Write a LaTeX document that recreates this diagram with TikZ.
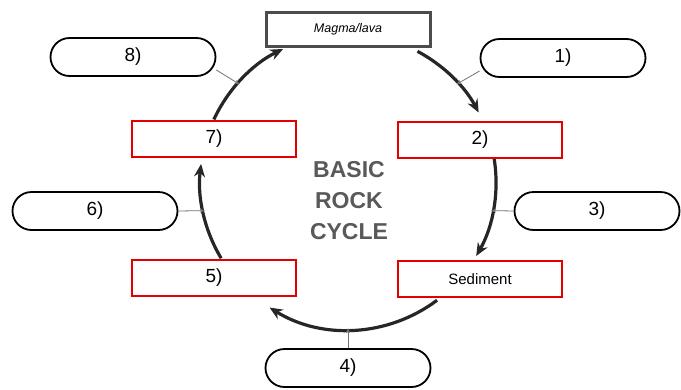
\documentclass[tikz,border=0pt]{standalone}
\usepackage{fontspec}
\setmainfont{Liberation Sans}
\usetikzlibrary{arrows.meta,calc}
\begin{document}
\begin{tikzpicture}[x=1pt,y=-1pt,
  redbox/.style={draw=red!90!black, line width=2.8pt, fill=white, minimum width=164pt, minimum height=36pt, inner sep=0pt, font=\fontsize{19}{22}\selectfont},
  pill/.style={draw=black, line width=1.8pt, fill=white, rounded corners=19pt, minimum width=165pt, minimum height=38pt, inner sep=0pt, font=\fontsize{19}{22}\selectfont},
  topbox/.style={draw=black!70, line width=3pt, fill=white, minimum width=164pt, minimum height=34pt, inner sep=0pt, font=\fontsize{12.5}{14}\selectfont\itshape},
  cyc/.style={draw=black!85, line width=3.2pt, -{Stealth[length=13pt,width=11pt]}},
  thin/.style={draw=black!55, line width=0.8pt, -{Stealth[length=5pt,width=4pt]}}
]
\useasboundingbox (0,0) rectangle (681,389);
\coordinate (C) at (348,182);

% cycle arcs
\draw[cyc] ($(C)+(-62:148)$) arc[start angle=-62, end angle=-28, radius=148];
\draw[cyc] ($(C)+(-9:148)$) arc[start angle=-9, end angle=30, radius=148];
\draw[cyc] ($(C)+(53:148)$) arc[start angle=53, end angle=122, radius=148];
\draw[cyc] ($(C)+(149:148)$) arc[start angle=149, end angle=187, radius=148];
\draw[cyc] ($(C)+(205:148)$) arc[start angle=205, end angle=244, radius=148];

% boxes on the cycle
\node[topbox] (magma) at (348,29) {Magma/lava};
\node[redbox] (b7) at (214,139) {7)};
\node[redbox] (b2) at (480,140) {2)};
\node[redbox] (b5) at (214,278) {5)};
\node[redbox, font=\fontsize{15}{18}\selectfont] (sed) at (480,279) {Sediment};

% outer pills
\node[pill] (p8) at (133,57) {8)};
\node[pill] (p1) at (563,58) {1)};
\node[pill] (p6) at (95,211) {6)};
\node[pill] (p3) at (597,211) {3)};
\node[pill] (p4) at (348,368) {4)};

% targets on the circle
\coordinate (t8) at ($(C)+(222:146)$);
\coordinate (t1) at ($(C)+(-42:146)$);
\coordinate (t6) at ($(C)+(168.7:146)$);
\coordinate (t3) at ($(C)+(11.3:146)$);
\coordinate (t4) at ($(C)+(90:146)$);

\draw[thin] ([yshift=-13pt]p8.east) -- (t8);
\draw[thin] ([yshift=-13pt]p1.west) -- (t1);
\draw[thin] (p6.east) -- (t6);
\draw[thin] (p3.west) -- (t3);
\draw[thin] (p4.north) -- (t4);

% title
\node[align=center, text=black!65, font=\fontsize{23}{31}\selectfont\bfseries] (title) at (349,201) {BASIC\\ROCK\\CYCLE};
\end{tikzpicture}
\end{document}
